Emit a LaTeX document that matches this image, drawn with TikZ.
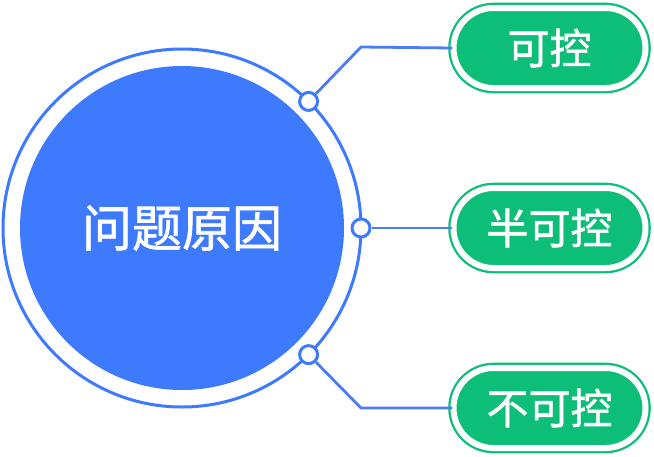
\documentclass[tikz,border=0pt]{standalone}
\usepackage{fontspec}
\newfontfamily\cjk[FakeBold=1.2]{Noto Sans CJK SC}
\usetikzlibrary{shapes.misc}
\definecolor{mainblue}{HTML}{3D7AFE}
\definecolor{linkblue}{HTML}{4A7CF6}
\definecolor{pillgreen}{HTML}{0DBE78}
\tikzset{
  pill/.style={rounded rectangle, minimum width=192pt, minimum height=80pt, inner sep=0pt,
    fill=pillgreen, draw=pillgreen, double=white, double distance=6pt, line width=2.3pt,
    text=white, font=\cjk\fontsize{42}{42}\selectfont},
  joint/.style={circle, minimum size=18pt, inner sep=0pt, fill=white, draw=mainblue, line width=3pt},
  link/.style={draw=linkblue, line width=2.8pt}
}
\begin{document}
\begin{tikzpicture}[x=1pt,y=-1pt]
\useasboundingbox (0,0) rectangle (654,456);
% big circle
\node[circle, minimum size=358pt, inner sep=0pt, draw=mainblue, line width=3pt] (ring) at (182,228) {};
\node[circle, minimum size=324pt, inner sep=0pt, fill=mainblue, text=white,
      font=\cjk\fontsize{50}{50}\selectfont] (main) at (182,228) {问题原因};
% joints
\node[joint] (j1) at (308.6,101.4) {};
\node[joint] (j2) at (361,228) {};
\node[joint] (j3) at (308.6,354.6) {};
% pills
\node[pill] (p1) at (549.5,48) {可控};
\node[pill] (p2) at (549.5,228) {半可控};
\node[pill] (p3) at (549.5,408) {不可控};
% elbows
\coordinate (e1) at (361,47);
\coordinate (e3) at (361,408);
% links
\draw[link] (j1) -- (e1) -- (p1.west);
\draw[link] (j2) -- (p2.west);
\draw[link] (j3) -- (e3) -- (p3.west);
\end{tikzpicture}
\end{document}
